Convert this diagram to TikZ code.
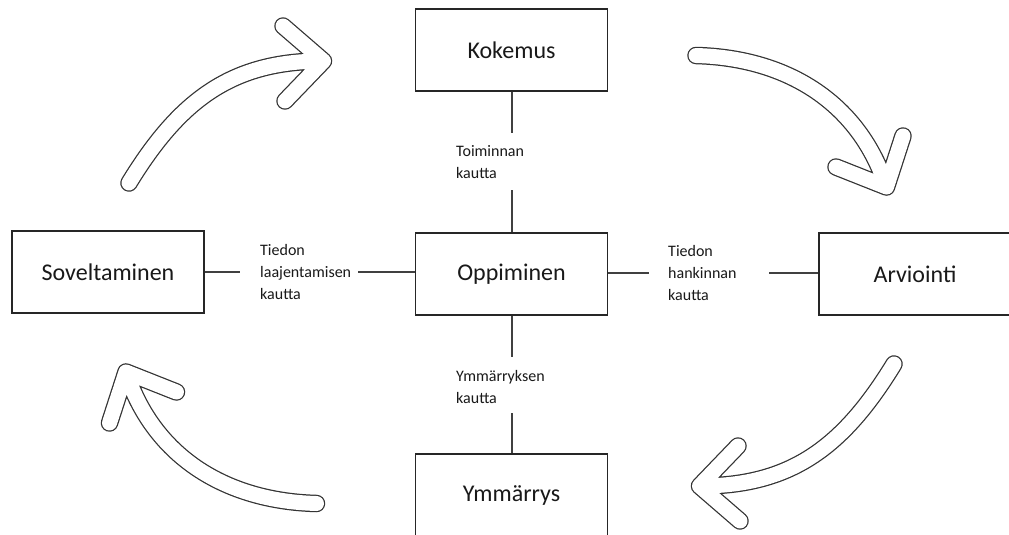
\documentclass[tikz,border=0pt]{standalone}
\usepackage{fontspec}
\setmainfont{Carlito}

\tikzset{
  box/.style={draw=black!85, line width=1.2pt, minimum width=192pt,
    minimum height=82pt, inner sep=0pt, text=black!90,
    font=\fontsize{24}{28}\selectfont},
  via/.style={align=left, anchor=west, inner sep=0pt, text=black!90,
    font=\fontsize{16}{22}\selectfont},
  link/.style={draw=black!75, line width=1.2pt},
  shellout/.style={line width=17.5pt, draw=black!80, line cap=round, line join=round},
  shellin/.style={line width=15pt, draw=white, line cap=round, line join=round},
}

% hollow curved arrow: tail, two control points, tip vertex, two barb ends
\newcommand\hollowarrow[6]{%
  \draw[shellout] #1 .. controls #2 and #3 .. #4 #5 -- #4 -- #6;
  \draw[shellin]  #1 .. controls #2 and #3 .. #4 #5 -- #4 -- #6;
}

\begin{document}
\begin{tikzpicture}[x=1pt, y=-1pt]
  \useasboundingbox (0,0) rectangle (1009,535);
  \fill[white] (0,0) rectangle (1009,535);
  \clip (0,0) rectangle (1009,535);

  % the five stages
  \node[box] (kok) at (511.5,50)  {Kokemus};
  \node[box] (opp) at (511.5,274) {Oppiminen};
  \node[box] (ymm) at (511.5,495) {Ymmärrys};
  \node[box] (sov) at (108,272)   {Soveltaminen};
  \node[box] (arv) at (915,274)   {Arviointi};

  % labels on the links
  \node[via] (ltop)   at (456,162) {Toiminnan\\kautta};
  \node[via] (lbot)   at (456,387) {Ymmärryksen\\kautta};
  \node[via] (lleft)  at (260,272) {Tiedon\\laajentamisen\\kautta};
  \node[via] (lright) at (668,273) {Tiedon\\hankinnan\\kautta};

  % ends of the link segments beside the labels
  \coordinate (t1) at (512,133);
  \coordinate (t2) at (512,190);
  \coordinate (b1) at (512,357);
  \coordinate (b2) at (512,413);
  \coordinate (s1) at (240,272);
  \coordinate (s2) at (358,272);
  \coordinate (a1) at (649,273);
  \coordinate (a2) at (769,273);

  \draw[link] (kok.south -| t1) -- (t1);
  \draw[link] (t2) -- (opp.north -| t2);
  \draw[link] (opp.south -| b1) -- (b1);
  \draw[link] (b2) -- (ymm.north -| b2);
  \draw[link] (sov.east |- s1) -- (s1);
  \draw[link] (s2) -- (opp.west |- s2);
  \draw[link] (opp.east |- a1) -- (a1);
  \draw[link] (a2) -- (arv.west |- a2);

  % the cycle arrows
  \hollowarrow{(129,183)}{(181,98)}{(233.5,61)}{(323.5,61)}{(283,26)}{(285,101)}
  \hollowarrow{(696,55.5)}{(790,58)}{(860,105)}{(886.5,187)}{(836,167)}{(903,136)}
  \hollowarrow{(894,364)}{(842,449)}{(789.5,486)}{(699.5,486)}{(740,521)}{(738,446)}
  \hollowarrow{(316.5,503.5)}{(222.5,501)}{(152.5,454)}{(126,372)}{(176.5,392)}{(109.5,423)}
\end{tikzpicture}
\end{document}
